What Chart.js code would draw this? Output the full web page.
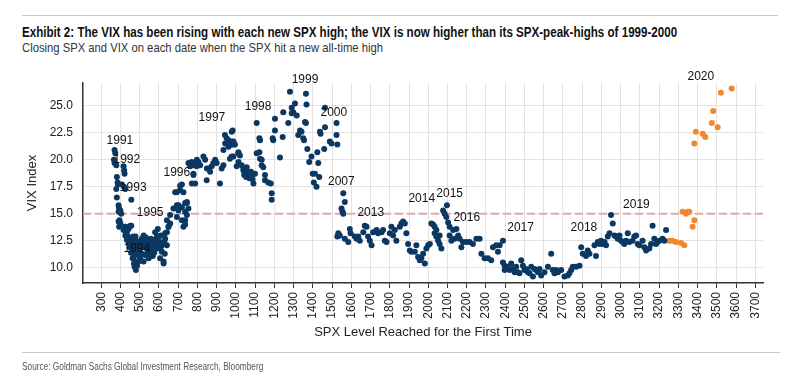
<!DOCTYPE html>
<html>
<head>
<meta charset="utf-8">
<script src="https://cdn.jsdelivr.net/npm/chart.js@4.4.1/dist/chart.umd.min.js"></script>
<style>
  body { margin: 0; background: #fff; width: 789px; height: 391px; overflow: hidden; position: relative; }
  .narrow { font-family: "Liberation Sans", Arial, sans-serif; position: absolute; white-space: nowrap; transform-origin: 0 0; }
  #rule-top { position: absolute; left: 22px; top: 15px; width: 756px; border-top: 1px solid #c8c8c8; }
  #rule-bottom { position: absolute; left: 22px; top: 352px; width: 758px; border-top: 1px solid #c8c8c8; }
  #title { left: 22px; top: 24px; font-size: 14px; font-weight: bold; color: #111; }
  #subtitle { left: 22px; top: 40px; font-size: 13px; color: #333; }
  #source { left: 22px; top: 360px; font-size: 11px; color: #555; }
  #chart { position: absolute; left: 0; top: 0; }
</style>
</head>
<body>
<div id="rule-top"></div>
<div id="title" class="narrow" data-w="655">Exhibit 2: The VIX has been rising with each new SPX high; the VIX is now higher than its SPX-peak-highs of 1999-2000</div>
<div id="subtitle" class="narrow" data-w="361">Closing SPX and VIX on each date when the SPX hit a new all-time high</div>
<canvas id="chart" width="789" height="391"></canvas>
<div id="rule-bottom"></div>
<div id="source" class="narrow" data-w="241">Source: Goldman Sachs Global Investment Research, Bloomberg</div>
<script>
// [SPX level, VIX close] for each new all-time high, 1991-2019
const historicHighs = [
  [369,20.9],[373,20.6],[366,20.0],[369,19.7],[378,19.5],[416,19.4],[419,19.0],[421,18.7],[381,18.4],[385,17.9],
  [387,17.7],[378,17.3],[407,17.7],[418,17.5],[425,17.3],[381,16.5],[456,16.3],[390,15.8],[393,15.5],[399,15.3],
  [390,15.2],[404,15.0],[395,14.4],[399,14.1],[425,13.8],[456,13.9],[433,13.2],
  [390,14.3],[393,13.8],[416,13.5],[425,13.8],[442,13.6],[451,13.9],[425,13.0],[433,12.6],[442,12.3],[451,12.1],
  [459,11.8],[468,11.5],[468,11.0],[476,10.6],[473,10.1],[480,9.8],[485,11.8],[494,12.1],[502,12.4],[511,12.7],
  [520,13.0],[528,12.1],[537,11.8],[546,12.0],[554,12.3],[560,11.5],[546,10.9],[572,12.6],[580,12.1],[589,11.8],
  [594,13.6],[598,12.9],[606,12.4],[615,11.5],[624,10.6],[632,12.7],[641,13.3],[641,12.1],[649,13.8],[658,14.1],
  [580,13.3],[528,11.2],[511,11.3],[502,10.9],[494,10.6],[520,10.6],
  [450,12.8],[460,12.5],[470,12.2],[478,12.9],[488,11.2],[498,11.6],[506,12.0],[515,11.9],[524,12.4],[532,12.8],
  [540,11.4],[550,11.0],[565,11.9],[575,11.4],[585,12.5],[600,11.9],[610,13.0],[620,12.2],[630,11.3],[606,10.9],
  [624,10.4],[470,10.4],[463,10.9],[486,10.2],[476,11.9],[455,11.4],[482,12.5],[492,11.5],[512,12.2],[536,12.5],
  [558,12.7],[568,11.1],[590,12.9],[612,12.0],[628,12.4],[466,12.9],[448,11.9],
  [641,14.4],[658,14.9],[675,15.5],[693,15.8],[701,15.3],[719,15.6],[736,15.2],[745,16.0],[753,15.5],[727,13.8],
  [736,14.4],[650,13.8],[632,13.2],[684,17.0],[710,17.2],[727,17.0],[719,17.7],[693,14.7],[719,14.4],[736,14.0],
  [745,14.9],[701,15.8],[736,16.0],[745,16.1],[693,17.0],[710,17.6],
  [762,19.4],[770,19.8],[779,19.5],[788,19.7],[796,19.4],[805,19.8],[779,18.7],[788,17.8],[814,19.5],[831,20.3],
  [840,20.0],[848,18.1],[857,19.2],[866,18.9],[874,19.4],[883,19.7],[892,20.0],[900,19.7],[917,17.8],[926,19.2],
  [935,19.5],[943,22.3],[952,22.0],[961,21.2],[969,21.5],[978,21.4],[987,21.7],[1013,20.6],[1021,20.4],[969,20.1],
  [1004,19.4],[1039,19.2],[1047,18.7],[753,19.7],[797,20.0],[849,19.2],[779,18.6],[771,17.8],[935,20.9],[944,21.5],
  [961,21.8],[978,22.6],[987,21.4],[978,20.3],
  [983,22.7],[978,21.7],[995,21.4],[987,20.3],[1013,20.7],[1013,19.8],[1030,19.5],[1039,19.0],[1047,18.9],[1056,19.3],
  [1065,18.7],[1073,18.6],[1082,18.4],[1091,17.8],[1099,18.7],[1053,18.4],[1070,18.3],[1060,18.9],[1078,18.9],[1086,18.2],
  [1043,18.6],
  [1108,23.4],[1122,22.0],[1125,21.8],[1108,20.6],[1122,20.7],[1125,20.1],[1134,20.0],[1134,19.5],[1142,19.3],[1151,18.6],
  [1151,18.1],[1168,17.9],[1181,17.8],[1186,16.9],[1186,16.3],
  [1194,21.8],[1191,22.0],[1203,22.7],[1203,23.8],[1229,20.2],[1243,22.1],[1246,24.4],[1272,23.4],[1281,26.3],[1290,24.8],
  [1290,24.3],[1298,24.4],[1307,25.2],[1316,24.1],[1324,22.3],[1333,22.7],[1341,22.6],[1350,22.0],[1359,23.5],[1364,26.1],
  [1367,25.1],[1364,23.4],[1354,21.8],[1371,21.0],[1381,19.8],[1393,20.3],[1399,18.7],[1411,18.7],[1405,17.9],[1419,17.5],
  [1423,20.7],[1428,19.7],[1433,18.4],[1437,22.6],[1440,22.4],[1463,24.8],[1463,23.0],[1459,21.0],[1488,21.7],[1497,21.5],
  [1523,23.4],[1523,22.3],[1527,21.4],
  [1558,16.9],[1566,16.1],[1549,15.5],[1554,15.2],[1558,15.0],
  [1532,13.2],[1527,12.9],[1540,13.0],[1566,12.7],[1584,12.4],[1592,13.6],[1596,13.2],[1618,12.9],[1627,12.7],[1636,12.9],
  [1644,12.5],[1662,13.3],[1670,13.9],[1679,13.8],[1687,12.9],[1696,12.5],[1705,12.1],[1713,13.3],[1731,13.5],[1739,13.2],
  [1757,13.3],[1765,13.5],[1774,12.5],[1783,12.4],[1800,13.2],[1808,13.8],[1817,13.0],[1826,13.5],[1834,12.5],[1852,13.8],
  [1860,14.1],[1869,14.3],[1878,14.1],[1886,13.2],
  [1895,12.2],[1904,11.6],[1912,11.5],[1930,11.5],[1938,12.1],[1947,11.0],[1956,10.7],[1964,10.9],[1973,11.3],[1982,10.4],
  [1990,11.8],[1999,12.1],[2008,12.2],
  [2016,14.1],[2025,14.0],[2033,13.8],[2042,13.5],[2033,13.2],[2042,12.9],[2051,12.5],[2059,12.2],[2068,11.8],[2059,13.0],
  [2077,15.3],[2085,15.0],[2094,14.7],[2097,15.8],[2103,14.2],[2111,13.8],[2111,13.0],[2120,12.5],[2129,13.5],[2137,12.7],
  [2146,13.6],[2155,13.0],[2163,12.7],[2172,11.9],[2180,12.4],[2198,12.4],
  [2215,12.4],[2232,12.2],[2250,12.7],[2267,12.7],[2276,11.3],[2293,10.9],[2310,10.9],[2327,10.7],[2336,11.9],[2353,12.1],
  [2362,11.5],[2371,12.1],[2388,12.5],
  [2388,10.5],[2397,10.2],[2397,9.8],[2414,10.1],[2423,9.8],[2431,10.4],[2440,9.9],[2449,9.6],[2457,10.1],[2466,9.6],
  [2474,9.5],[2483,10.7],[2492,10.2],[2500,9.8],[2509,9.9],[2518,9.6],[2526,9.5],[2535,10.1],[2544,9.2],[2552,9.9],
  [2561,9.8],[2570,9.6],[2578,9.9],[2587,9.3],[2604,9.6],[2622,10.1],[2639,11.3],[2647,9.8],[2656,9.5],[2665,9.8],
  [2674,9.6],[2691,9.8],[2708,9.2],[2725,9.3],[2734,9.5],[2743,9.8],[2751,10.1],[2769,10.1],[2786,10.2],
  [2795,11.9],[2803,11.3],[2820,11.1],[2829,11.6],[2838,11.3],[2864,12.1],[2872,11.1],[2881,12.4],[2890,12.2],[2898,12.5],
  [2907,12.2],[2916,12.4],[2924,12.1],[2933,12.9],[2942,13.2],[2950,14.9],[2959,14.1],[2968,13.0],[2976,12.9],[2985,12.7],
  [2994,13.0],[3002,12.5],[3011,12.4],[3019,12.2],[3028,12.5],[3037,13.2],[3045,12.4],[3062,12.5],[3071,12.9],[3080,13.0],
  [3089,12.2],[3097,12.1],[3114,12.5],[3123,11.9],[3132,11.6],[3149,11.8],[3158,12.2],[3166,13.9],[3175,12.7],[3184,12.2],
  [3192,12.4],[3201,12.5],[3218,12.7],[3227,12.5],[3236,13.5]
];

// 2020 highs
const highs2020 = [
  [3253,12.5],[3270,12.5],[3288,12.4],[3314,12.3],[3331,12.1],[3322,15.2],[3340,15.0],[3348,15.2],[3357,15.2],[3383,14.4],
  [3374,13.8],[3383,21.5],[3391,22.6],[3426,22.4],[3440,22.1],[3474,23.4],[3481,24.5],[3504,23.0],[3521,26.2],[3577,26.6]
];

const yearLabels   = ['1991','1992','1993','1994','1995','1996','1997','1998','1999','2000','2007','2013','2014','2015','2016','2017','2018','2019','2020'];
const yearLabelSpx = [397, 433, 466, 485, 554, 693, 875, 1115, 1359, 1509, 1548, 1701, 1966, 2111, 2200, 2480, 2809, 3082, 3417];
const yearLabelVix = [21.8, 20.0, 17.4, 11.8, 15.1, 18.8, 23.9, 24.9, 27.4, 24.4, 18.0, 15.1, 16.4, 16.9, 14.6, 13.7, 13.7, 15.8, 27.7];

const spxTicks = [300,400,500,600,700,800,900,1000,1100,1200,1300,1400,1500,1600,1700,1800,1900,2000,2100,2200,2300,2400,2500,2600,2700,2800,2900,3000,3100,3200,3300,3400,3500,3600,3700];
const vixTicks = [10, 12.5, 15, 17.5, 20, 22.5, 25];
const vixReference = 15;

// squeeze header/footer text to the condensed widths of the original
document.querySelectorAll('.narrow').forEach(el => {
  el.style.transform = 'scaleX(' + (Number(el.dataset.w) / el.offsetWidth) + ')';
});

const toPoints = rows => rows.map(r => ({ x: r[0], y: r[1] }));
const labelFont = '"Liberation Sans", Arial, sans-serif';

const refLinePlugin = {
  id: 'refLine',
  beforeDatasetsDraw(chart) {
    const { ctx, chartArea, scales } = chart;
    const y = scales.y.getPixelForValue(vixReference);
    ctx.save();
    ctx.strokeStyle = '#dfa9ab';
    ctx.lineWidth = 2;
    ctx.setLineDash([8, 4]);
    ctx.beginPath();
    ctx.moveTo(chartArea.left, y);
    ctx.lineTo(chartArea.right, y);
    ctx.stroke();
    ctx.restore();
  }
};

const yearLabelPlugin = {
  id: 'yearLabels',
  afterDatasetsDraw(chart) {
    const { ctx, scales } = chart;
    ctx.save();
    ctx.font = '12px ' + labelFont;
    ctx.fillStyle = '#111';
    ctx.textAlign = 'center';
    ctx.textBaseline = 'middle';
    yearLabels.forEach((label, i) => {
      ctx.fillText(label, scales.x.getPixelForValue(yearLabelSpx[i]), scales.y.getPixelForValue(yearLabelVix[i]));
    });
    ctx.restore();
  }
};

new Chart(document.getElementById('chart'), {
  type: 'scatter',
  data: {
    datasets: [
      {
        label: 'Pre-2020',
        data: toPoints(historicHighs),
        backgroundColor: '#0b3863',
        borderColor: '#0b3863',
        pointRadius: 3,
        borderWidth: 0
      },
      {
        label: '2020',
        data: toPoints(highs2020),
        backgroundColor: '#f0882c',
        borderColor: '#f0882c',
        pointRadius: 3,
        borderWidth: 0
      }
    ]
  },
  options: {
    responsive: false,
    animation: false,
    layout: { padding: { top: 83, left: 0, right: 26, bottom: 48 } },
    plugins: {
      legend: { display: false },
      tooltip: { enabled: false }
    },
    scales: {
      x: {
        type: 'linear',
        min: 205,
        max: 3740,
        afterBuildTicks: scale => { scale.ticks = spxTicks.map(v => ({ value: v })); },
        afterFit: scale => { scale.height = 60; },
        ticks: {
          minRotation: 90,
          maxRotation: 90,
          padding: 4,
          color: '#222',
          font: { family: labelFont, size: 12 },
          callback: v => String(v)
        },
        grid: { color: '#e2e2e2', tickColor: '#333', tickLength: 5, lineWidth: 1 },
        border: { display: true, color: '#333', width: 1.5 },
        title: {
          display: true,
          text: 'SPX Level Reached for the First Time',
          color: '#222',
          font: { family: labelFont, size: 13 },
          padding: { top: 0, bottom: 3 }
        }
      },
      y: {
        type: 'linear',
        min: 8.6,
        max: 27.1,
        afterBuildTicks: scale => { scale.ticks = vixTicks.map(v => ({ value: v })); },
        afterFit: scale => { scale.width = 83; },
        ticks: {
          padding: 10,
          color: '#222',
          font: { family: labelFont, size: 12 },
          callback: v => v.toFixed(1)
        },
        grid: { color: '#e2e2e2', drawTicks: false, lineWidth: 1 },
        border: { display: true, color: '#333', width: 1.5 },
        title: {
          display: true,
          text: 'VIX Index',
          color: '#222',
          font: { family: labelFont, size: 13 },
          padding: { top: 25, bottom: 0 }
        }
      }
    }
  },
  plugins: [refLinePlugin, yearLabelPlugin]
});
</script>
</body>
</html>
